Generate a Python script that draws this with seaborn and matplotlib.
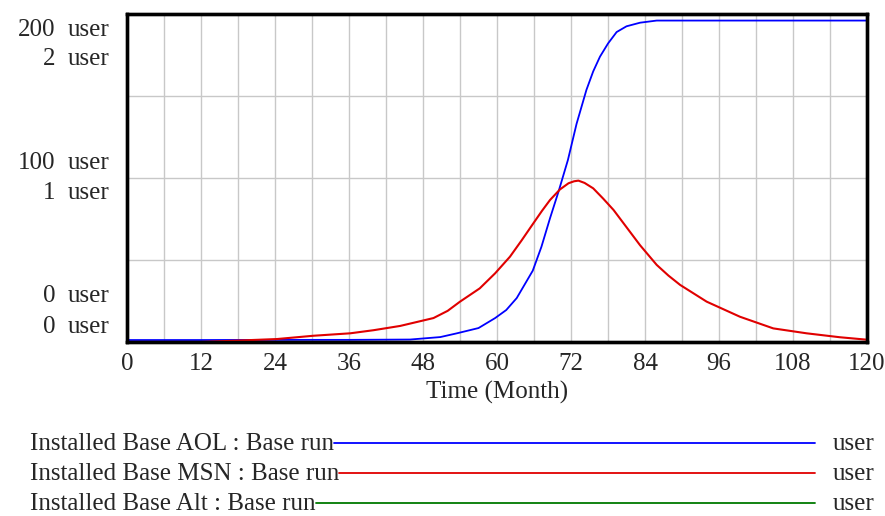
import matplotlib
matplotlib.use("Agg")
import matplotlib.pyplot as plt
from matplotlib.lines import Line2D
import seaborn as sns
import pandas as pd

# Installed Base AOL (user)
aol_month = [0, 12, 24, 36, 45.9, 50.8, 53.5, 57, 59.7, 61.5, 63.2, 65.8, 67.2, 68.6,
             70, 71.5, 72.9, 74.5, 75.6, 76.7, 78, 79.4, 81, 83.2, 85.9, 90, 100, 110, 120]
aol_value = [1.2, 1.2, 1.3, 1.3, 1.5, 3, 5.3, 8.5, 14.6, 19.5, 26.8, 43.5, 58, 75.5,
             92, 111, 133, 153.7, 165, 174, 182, 189, 192.5, 194.7, 196, 196, 196, 196, 196]

# Installed Base MSN (user, second scale 0-2)
msn_month = [0, 12, 24.3, 30.2, 36.2, 40, 44.3, 49.7, 52, 54, 57.2, 59.7, 62.1, 64, 65.9,
             67.3, 68.6, 70.2, 71.6, 72.5, 73.2, 74.2, 75.6, 77.2, 78.9, 81, 83.2, 85.9,
             87.8, 89.7, 94, 99.4, 104.8, 110.2, 115.6, 120]
msn_value = [0.0, 0.0, 0.018, 0.038, 0.053, 0.072, 0.098, 0.146, 0.19, 0.246, 0.327, 0.419,
             0.52, 0.62, 0.724, 0.80, 0.866, 0.93, 0.968, 0.98, 0.984, 0.97, 0.937, 0.875,
             0.805, 0.70, 0.59, 0.47, 0.405, 0.348, 0.246, 0.154, 0.083, 0.053, 0.029, 0.014]

# Installed Base Alt (user) - flat at zero, hidden under the others
alt_month = [0, 120]
alt_value = [0, 0]

x_ticks = list(range(0, 121, 12))
left_labels = [(200, "200", "2"), (100, "100", "1"), (0, "0", "0")]
legend_names = ["Installed Base AOL : Base run", "Installed Base MSN : Base run",
                "Installed Base Alt : Base run"]
colors = ["#0000ff", "#e00000", "#007a00"]

df_aol = pd.DataFrame({"month": aol_month, "value": aol_value})
df_msn = pd.DataFrame({"month": msn_month, "value": msn_value})
df_alt = pd.DataFrame({"month": alt_month, "value": alt_value})

sns.set_style("white")
plt.rcParams["font.family"] = ["Liberation Serif", "DejaVu Serif"]
fs = 18

fig = plt.figure(figsize=(8.85, 5.16), dpi=100)
ax = fig.add_axes([127 / 885, 1 - 342 / 516, 740 / 885, 328 / 516])
ax2 = ax.twinx()

sns.lineplot(data=df_alt, x="month", y="value", color=colors[2], lw=1.3, ax=ax)
sns.lineplot(data=df_aol, x="month", y="value", color=colors[0], lw=1.3, ax=ax)
sns.lineplot(data=df_msn, x="month", y="value", color=colors[1], lw=1.5, ax=ax2)

ax.set_xlim(0, 120)
ax.set_ylim(0, 200)
ax2.set_ylim(0, 2)
ax.set_xticks(x_ticks)
ax.set_xticks(range(0, 121, 6), minor=True)
ax.set_xticklabels([str(t) for t in x_ticks], fontsize=fs)
ax.set_yticks([0, 50, 100, 150, 200])
ax.set_yticklabels([])
ax2.set_yticks([])
ax.tick_params(axis="x", length=0, pad=8)
ax.tick_params(axis="y", length=0)
ax.grid(True, which="both", color="#c8c8c8", lw=1)
ax.set_xlabel("Time (Month)", fontsize=fs, labelpad=4)
ax.set_ylabel("")
ax2.set_ylabel("")
for a in (ax, ax2):
    for s in a.spines.values():
        s.set_linewidth(2.4)
        s.set_color("black")

# Two-scale labels on the left, Vensim style
ytr = ax.get_yaxis_transform()
for val, a, b in left_labels:
    if val == 200:
        offs = [-16, -45]
    elif val == 100:
        offs = [15, -15]
    else:
        offs = [46, 15]
    for off, num in zip(offs, (a, b)):
        ax.annotate(num, xy=(-0.097, val), xycoords=ytr, xytext=(0, off),
                    textcoords="offset pixels", ha="right", va="center", fontsize=fs)
        ax.annotate("user", xy=(-0.08, val), xycoords=ytr, xytext=(0, off),
                    textcoords="offset pixels", ha="left", va="center", fontsize=fs)

# Legend below the chart
fig.canvas.draw()
renderer = fig.canvas.get_renderer()
for i, (name, c) in enumerate(zip(legend_names, colors)):
    yc = 1 - (444 + 30 * i) / 516
    t = fig.text(30 / 885, yc, name, ha="left", va="center", fontsize=fs)
    bb = t.get_window_extent(renderer=renderer)
    x0 = bb.x1 / fig.bbox.width
    fig.add_artist(Line2D([x0, 815 / 885], [yc + 0.002, yc + 0.002], color=c, lw=1.3,
                          transform=fig.transFigure))
    fig.text(833 / 885, yc, "user", ha="left", va="center", fontsize=fs)

fig.savefig("out.png", dpi=100)
